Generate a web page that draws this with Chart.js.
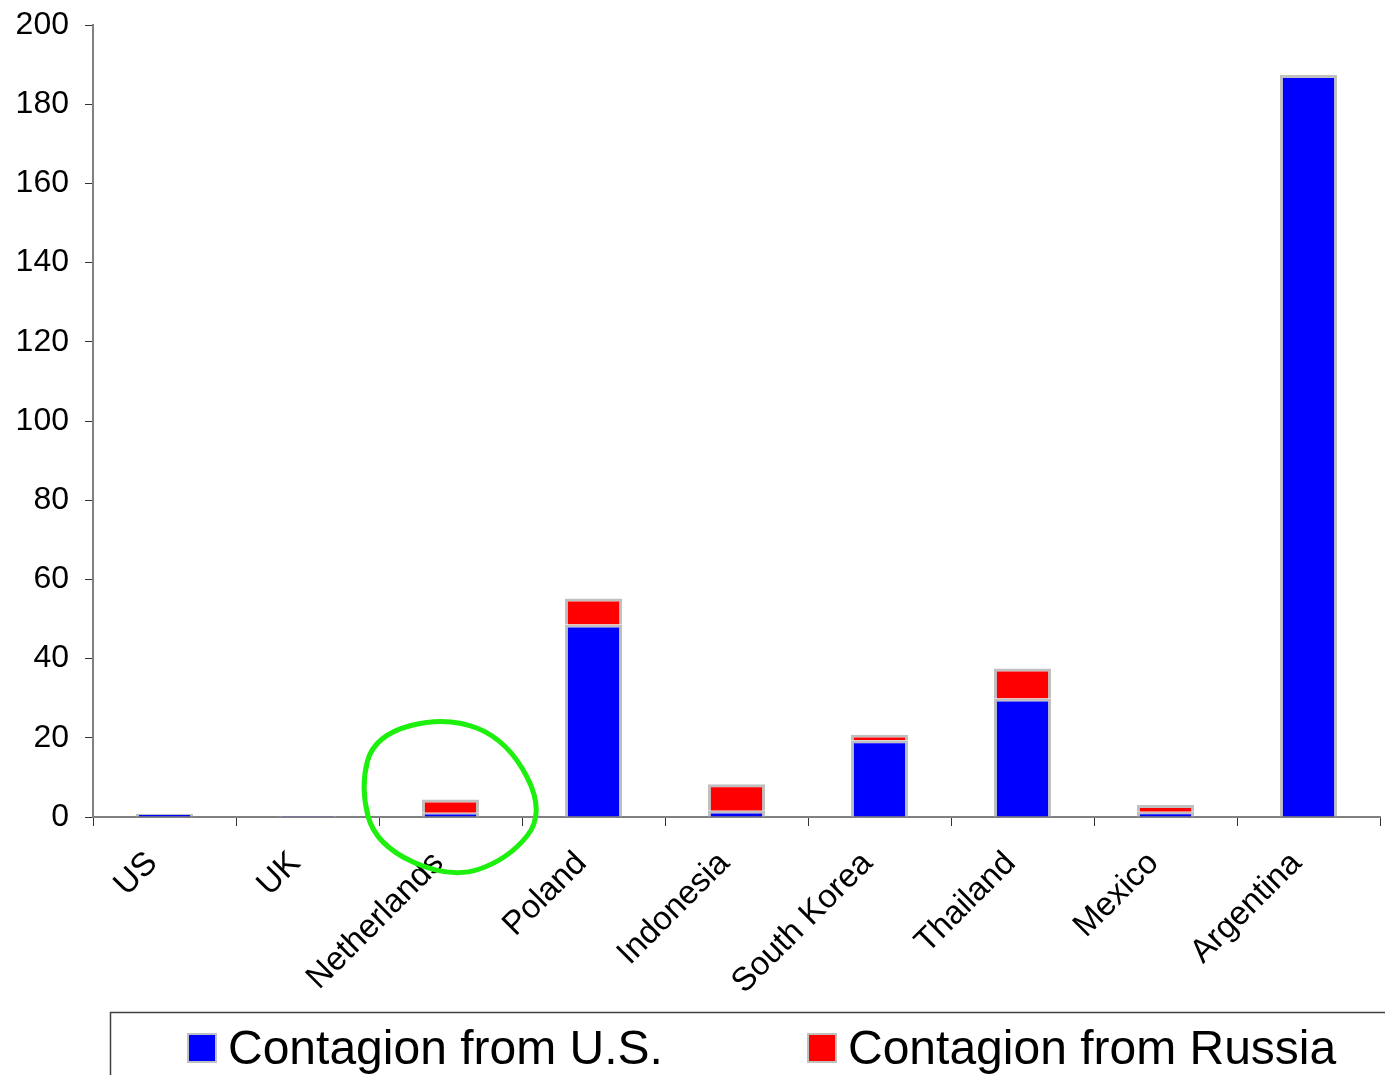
<!DOCTYPE html>
<html>
<head>
<meta charset="utf-8">
<title>Contagion from U.S. and Russia</title>
<script src="https://cdn.jsdelivr.net/npm/chart.js@4/dist/chart.umd.min.js"></script>
<style>
  html, body { margin: 0; padding: 0; background: #ffffff; }
  #wrap { width: 1385px; height: 1075px; }
</style>
</head>
<body>
<div id="wrap"><canvas id="chart" width="1385" height="1075"></canvas></div>
<script>
// Countries along the x axis
const categories = ['US', 'UK', 'Netherlands', 'Poland', 'Indonesia', 'South Korea', 'Thailand', 'Mexico', 'Argentina'];
// Stacked segments per country
const contagionUS = [0.85, 0.25, 1.1, 48.6, 1.6, 19.4, 29.9, 1.3, 187.4];
const contagionRussia = [null, null, 3.3, 6.6, 6.7, 1.4, 7.6, 1.7, null];
// Value axis
const yMin = 0;
const yMax = 200;
const yStep = 20;

const FONT = "'Liberation Sans', Arial, Helvetica, sans-serif";
const BAR_EDGE = '#c0c0c0';

// Hand-drawn style loop around the Netherlands bar
const loopPlugin = {
  id: 'loop',
  afterDraw(chart) {
    const x = chart.scales.x.getPixelForValue(2);
    const y0 = chart.scales.y.getPixelForValue(0);
    const pts = [[-3, -101], [58, -76], [95, -4], [58, 42], [0, 62], [-75, 28], [-90, -30], [-76, -82]]
      .map(p => [x + p[0], y0 + p[1]]);
    const ctx = chart.ctx;
    ctx.save();
    ctx.strokeStyle = '#1cf00c';
    ctx.lineWidth = 5;
    ctx.lineJoin = 'round';
    ctx.beginPath();
    const n = pts.length;
    const mid = (a, b) => [(a[0] + b[0]) / 2, (a[1] + b[1]) / 2];
    const m = mid(pts[n - 1], pts[0]);
    ctx.moveTo(m[0], m[1]);
    for (let i = 0; i < n; i++) {
      const p = pts[i];
      const q = mid(p, pts[(i + 1) % n]);
      ctx.quadraticCurveTo(p[0], p[1], q[0], q[1]);
    }
    ctx.closePath();
    ctx.stroke();
    ctx.restore();
  }
};

// Framed legend along the bottom edge
const legendBoxPlugin = {
  id: 'legendBox',
  afterDraw(chart) {
    const ctx = chart.ctx;
    ctx.save();
    ctx.strokeStyle = '#404040';
    ctx.lineWidth = 1.5;
    ctx.beginPath();
    ctx.moveTo(110.5, chart.height + 5);
    ctx.lineTo(110.5, 1012.5);
    ctx.lineTo(chart.width + 5, 1012.5);
    ctx.stroke();

    const items = [{ x: 187 }, { x: 807 }];
    chart.data.datasets.forEach((ds, i) => {
      const bx = items[i].x, by = 1033;
      ctx.fillStyle = BAR_EDGE;
      ctx.fillRect(bx, by, 30, 30);
      ctx.fillStyle = ds.backgroundColor;
      ctx.fillRect(bx + 2, by + 2, 26, 26);
      ctx.fillStyle = '#000000';
      ctx.font = '48px ' + FONT;
      ctx.textBaseline = 'alphabetic';
      ctx.textAlign = 'left';
      ctx.fillText(ds.label, bx + 41, 1064);
    });
    ctx.restore();
  }
};

new Chart(document.getElementById('chart'), {
  type: 'bar',
  data: {
    labels: categories,
    datasets: [
      {
        label: 'Contagion from U.S.',
        data: contagionUS,
        backgroundColor: '#0000ff',
        borderColor: BAR_EDGE,
        borderWidth: 3,
        borderSkipped: 'bottom',
        barPercentage: 0.4,
        categoryPercentage: 1.0
      },
      {
        label: 'Contagion from Russia',
        data: contagionRussia,
        backgroundColor: '#ff0000',
        borderColor: BAR_EDGE,
        borderWidth: 3,
        borderSkipped: 'bottom',
        barPercentage: 0.4,
        categoryPercentage: 1.0
      }
    ]
  },
  options: {
    responsive: false,
    animation: false,
    layout: { padding: { top: 25, right: 5, bottom: 0, left: 0 } },
    plugins: {
      legend: { display: false },
      tooltip: { enabled: false }
    },
    scales: {
      x: {
        stacked: true,
        grid: {
          display: true,
          drawOnChartArea: false,
          drawTicks: true,
          tickLength: 9,
          color: '#333333',
          offset: true
        },
        border: { display: true, color: '#808080', width: 2 },
        ticks: {
          color: '#000000',
          font: { family: FONT, size: 33 },
          minRotation: 45,
          maxRotation: 45,
          autoSkip: false,
          padding: 18,
          labelOffset: -12
        },
        afterFit(scale) {
          scale.height = 258;
          scale.paddingLeft = 0;
          scale.paddingRight = 0;
        }
      },
      y: {
        stacked: true,
        min: yMin,
        max: yMax,
        grid: {
          display: true,
          drawOnChartArea: false,
          drawTicks: true,
          tickLength: 8,
          color: '#333333'
        },
        border: { display: true, color: '#808080', width: 2 },
        ticks: {
          stepSize: yStep,
          color: '#000000',
          font: { family: FONT, size: 32 },
          padding: 16
        },
        afterFit(scale) {
          scale.width = 93;
          scale.paddingTop = 0;
          scale.paddingBottom = 0;
        }
      }
    }
  },
  plugins: [loopPlugin, legendBoxPlugin]
});
</script>
</body>
</html>
